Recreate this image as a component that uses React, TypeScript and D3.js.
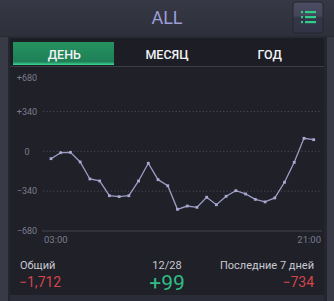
import React from "react";
import * as d3 from "d3";

const values = [-63, -12, -9, -91, -236, -253, -379, -387, -379, -253, -102, -242, -294, -495, -467, -478, -392, -456, -384, -336, -364, -410, -432, -398, -264, -94, 111, 99];
const yTicks = [680, 340, 0, -340, -680];
const yTickLabels = ["+680", "+340", "0", "\u2212340", "\u2212680"];
const xLabels = ["03:00", "21:00"];
const tabs = ["ДЕНЬ", "МЕСЯЦ", "ГОД"];
const title = "ALL";
const totalLabel = "Общий";
const totalValue = "\u22121,712";
const dateLabel = "12/28";
const dayValue = "+99";
const weekLabel = "Последние 7 дней";
const weekValue = "\u2212734";

const W = 334, H = 301;
const font = "'Helvetica Neue', Roboto, 'Liberation Sans', Arial, sans-serif";

export default function App() {
  const x = d3.scaleLinear().domain([0, values.length - 1]).range([51, 313.7]);
  const y = d3.scaleLinear().domain([-680, 680]).range([231, 71.6]);
  const line = d3.line<number>().x((_, i) => x(i)).y(d => y(d));
  const tabX = d3.scaleBand().domain(tabs).range([13, 321]);

  return (
    <svg width={W} height={H} style={{ position: "absolute", left: 0, top: 0, display: "block" }}>
      <defs>
        <linearGradient id="hdr" x1="0" y1="0" x2="0" y2="1">
          <stop offset="0" stopColor="#363845" />
          <stop offset="1" stopColor="#2d2f3a" />
        </linearGradient>
        <linearGradient id="grn" x1="0" y1="0" x2="0" y2="1">
          <stop offset="0" stopColor="#25935f" />
          <stop offset="0.85" stopColor="#1f7f57" />
          <stop offset="1" stopColor="#3bdc95" />
        </linearGradient>
        <linearGradient id="btn" x1="0" y1="0" x2="0" y2="1">
          <stop offset="0" stopColor="#4c4d62" />
          <stop offset="0.45" stopColor="#45465a" />
          <stop offset="0.5" stopColor="#35364a" />
          <stop offset="1" stopColor="#323344" />
        </linearGradient>
      </defs>
      <rect width={W} height={H} fill="#2c2e39" />
      <rect width={W} height={37} fill="url(#hdr)" />
      <line x1={0} x2={W} y1={37} y2={37} stroke="#25262f" />
      {/* side strips */}
      <rect x={0} y={37} width={8} height={H - 37} fill="#383a46" />
      <rect x={8} y={37} width={2} height={H - 37} fill="#24252e" />
      <rect x={324} y={37} width={3} height={H - 37} fill="#24252e" />
      <rect x={327} y={37} width={7} height={H - 37} fill="#383a46" />
      {/* panel */}
      <rect x={10} y={38} width={314} height={257} fill="#1f2028" />
      <rect x={10} y={38} width={314} height={29} fill="#1c1d25" />
      <line x1={10} x2={324} y1={66.5} y2={66.5} stroke="#3a3c48" />
      <rect x={10} y={295} width={314} height={6} fill="#2a2c37" />
      {/* title */}
      <text x={167} y={24} textAnchor="middle" fontFamily={font} fontSize={18} fill="#9d9ed8">{title}</text>
      {/* menu button */}
      <rect x={293} y={2} width={30} height={31} rx={3} fill="url(#btn)" stroke="#26272f" />
      {[12, 17, 22].map((yy, i) => (
        <g key={i}>
          <rect x={301} y={yy - 1} width={2} height={2.2} fill="#2fd18a" />
          <rect x={305} y={yy - 1} width={11} height={2.2} fill="#2fd18a" />
        </g>
      ))}
      {/* tabs */}
      <rect x={13} y={42} width={101} height={23} fill="url(#grn)" />
      {tabs.map(t => (
        <text key={t} x={(tabX(t) as number) + tabX.bandwidth() / 2} y={58.5} textAnchor="middle" fontFamily={font} fontSize={12.5} fontWeight={500} fill="#f2f2f4">{t}</text>
      ))}
      {/* grid */}
      {yTicks.map((t, i) => (
        <g key={t}>
          {t !== -680 && t !== 680 && (
            <line x1={43} x2={322} y1={y(t)} y2={y(t)} stroke="#4a4c58" strokeDasharray="1.2 2.2" />
          )}
          <text x={27} y={(t === 680 ? 78 : y(t)) + 3.2} textAnchor="middle" fontFamily={font} fontSize={9} fill="#7c7d8c">{yTickLabels[i]}</text>
        </g>
      ))}
      <line x1={42} x2={322} y1={y(-680)} y2={y(-680)} stroke="#41434f" />
      <text x={44} y={242.5} fontFamily={font} fontSize={9.5} fill="#7c7d8c">{xLabels[0]}</text>
      <text x={321} y={242.5} textAnchor="end" fontFamily={font} fontSize={9.5} fill="#7c7d8c">{xLabels[1]}</text>
      {/* line */}
      <path d={line(values) || ""} fill="none" stroke="#9d9cc4" strokeWidth={1.3} />
      {values.map((v, i) => (
        <rect key={i} x={x(i) - 1.4} y={y(v) - 1.4} width={2.8} height={2.8} fill="#a9a8cf" />
      ))}
      {/* footer */}
      <text x={20} y={269} fontFamily={font} fontSize={11} fill="#c9c9d2">{totalLabel}</text>
      <text x={19} y={287} fontFamily={font} fontSize={14} fill="#d5454a">{totalValue}</text>
      <text x={167} y={269} textAnchor="middle" fontFamily={font} fontSize={11} fill="#c9c9d2">{dateLabel}</text>
      <text x={167} y={290} textAnchor="middle" fontFamily={font} fontSize={21} fill="#2fbd85">{dayValue}</text>
      <text x={314} y={269} textAnchor="end" fontFamily={font} fontSize={11} fill="#c9c9d2">{weekLabel}</text>
      <text x={314} y={287} textAnchor="end" fontFamily={font} fontSize={14} fill="#d5454a">{weekValue}</text>
    </svg>
  );
}
